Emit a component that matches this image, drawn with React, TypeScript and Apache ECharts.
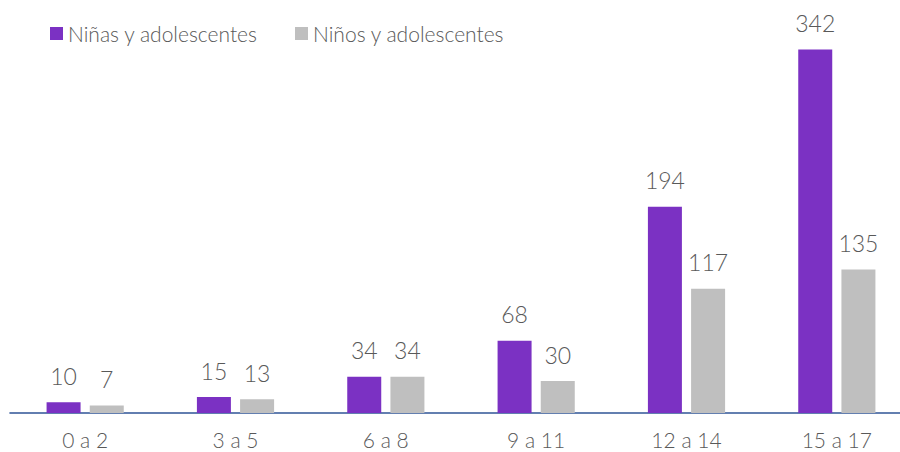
import React, { useEffect, useRef } from "react";
import * as echarts from "echarts";

const categories = ["0 a 2", "3 a 5", "6 a 8", "9 a 11", "12 a 14", "15 a 17"];
const ninas = [10, 15, 34, 68, 194, 342];
const ninos = [7, 13, 34, 30, 117, 135];
const seriesNames = ["Niñas y adolescentes", "Niños y adolescentes"];

const FONT = "Lato";
const TEXT = "#595959";

export default function App() {
  const ref = useRef<HTMLDivElement>(null);
  useEffect(() => {
    const chart = echarts.init(ref.current!, null, { renderer: "svg" });
    const label = {
      show: true,
      position: "top" as const,
      distance: 15,
      color: TEXT,
      fontFamily: FONT,
      fontWeight: 300,
      fontSize: 23,
    };
    chart.setOption({
      animation: false,
      legend: {
        left: 45,
        top: 18,
        itemWidth: 13,
        itemHeight: 13,
        itemGap: 37,
        icon: "rect",
        textStyle: { color: TEXT, fontFamily: FONT, fontWeight: 300, fontSize: 21 },
        data: seriesNames,
      },
      grid: { left: 10, width: 902, top: 41, bottom: 39, containLabel: false, outerBoundsMode: "none" },
      xAxis: {
        type: "category",
        data: categories,
        axisLine: { lineStyle: { color: "#2F5496", width: 1.6 } },
        axisTick: { show: false },
        axisLabel: {
          color: TEXT,
          fontFamily: FONT,
          fontWeight: 300,
          fontSize: 21,
          margin: 16,
        },
      },
      yAxis: {
        type: "value",
        min: 0,
        max: 350,
        show: false,
        splitLine: { show: false },
      },
      series: [
        {
          name: seriesNames[0],
          type: "bar",
          data: ninas,
          barWidth: 34,
          barGap: "27%",
          itemStyle: { color: "#7B31C3" },
          label,
        },
        {
          name: seriesNames[1],
          type: "bar",
          data: ninos,
          barWidth: 34,
          barGap: "27%",
          itemStyle: { color: "#BFBFBF" },
          label,
        },
      ],
    });
    return () => chart.dispose();
  }, []);
  return (
    <div
      ref={ref}
      style={{ position: "fixed", left: 0, top: 0, width: 900, height: 452, background: "#fff" }}
    />
  );
}
